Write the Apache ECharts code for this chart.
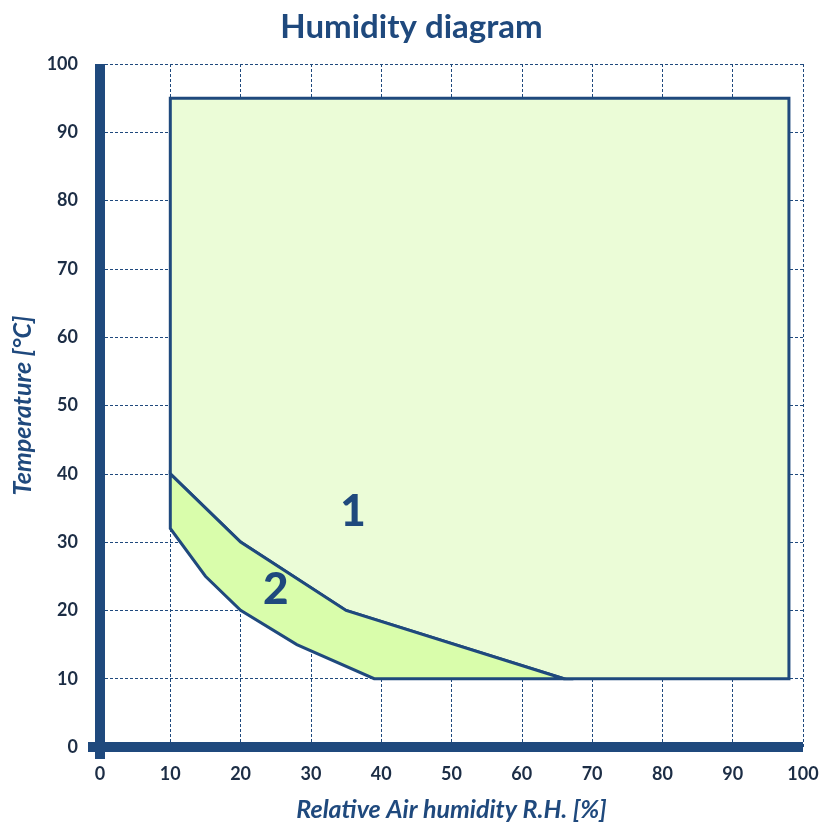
<!DOCTYPE html>
<html>
<head>
<meta charset="utf-8">
<script src="https://cdn.jsdelivr.net/npm/echarts@6/dist/echarts.min.js"></script>
<style>
html,body{margin:0;padding:0;background:#fff;}
#main{width:823px;height:822px;}
</style>
</head>
<body>
<div id="main"></div>
<script>
// zone 1 (light green), outline points: humidity / temperature
var zone1Hum  = [10, 10, 98, 98, 66, 35, 20];
var zone1Temp = [40, 95, 95, 10, 10, 20, 30];
// zone 2 (darker green band)
var zone2Hum  = [10, 20, 35, 66, 39, 28, 20, 15, 10];
var zone2Temp = [40, 30, 20, 10, 10, 15, 20, 25, 32];
// zone numbers
var zoneNames = ['1', '2'];
var zoneNameHum = [36, 25];
var zoneNameTemp = [34.5, 23];

var blue = '#1f497d';
var txt = '#1c2d45';

function zoneSeries(hum, temp, fill) {
	var pts = [];
	for (var i = 0; i < hum.length; i++) pts.push([hum[i], temp[i]]);
	return {
		type: 'custom',
		silent: true,
		data: pts,
		renderItem: function (params, api) {
			if (params.dataIndex !== 0) return;
			var p = [];
			for (var i = 0; i < pts.length; i++) p.push(api.coord(pts[i]));
			return {
				type: 'polygon',
				shape: {points: p},
				style: {fill: fill, stroke: blue, lineWidth: 3, lineJoin: 'miter'}
			};
		}
	};
}

var labelData = [];
for (var i = 0; i < zoneNames.length; i++) labelData.push([zoneNameHum[i], zoneNameTemp[i], zoneNames[i]]);

var chart = echarts.init(document.getElementById('main'));
chart.setOption({
	animation: false,
	title: {
		text: 'Humidity diagram',
		left: 'center',
		top: 6,
		textStyle: {fontFamily: 'Lato', fontWeight: 'bold', fontSize: 33, color: blue}
	},
	grid: {left: 100, right: 20, top: 64, bottom: 75, outerBoundsMode: 'none', containLabel: false},
	xAxis: {
		type: 'value', min: 0, max: 100, interval: 10,
		name: 'Relative Air humidity R.H. [%]',
		nameLocation: 'middle', nameGap: 50,
		nameTextStyle: {fontFamily: 'Lato', fontWeight: 'bold', fontStyle: 'italic', fontSize: 25, color: blue},
		axisLine: {show: true, symbol: ['rect', 'none'], symbolSize: [10, 24], lineStyle: {color: blue, width: 10, cap: 'butt'}},
		axisTick: {show: false},
		axisLabel: {margin: 18, fontFamily: 'Lato', fontWeight: 'bold', fontSize: 18, color: txt},
		splitLine: {show: true, lineStyle: {color: blue, width: 1, type: [3, 2]}}
	},
	yAxis: {
		type: 'value', min: 0, max: 100, interval: 10,
		name: 'Temperature [°C]',
		nameLocation: 'middle', nameGap: 62,
		nameTextStyle: {fontFamily: 'Lato', fontWeight: 'bold', fontStyle: 'italic', fontSize: 25, color: blue},
		axisLine: {show: true, symbol: ['rect', 'none'], symbolSize: [10, 24], lineStyle: {color: blue, width: 10, cap: 'butt'}},
		axisTick: {show: false},
		axisLabel: {margin: 22, fontFamily: 'Lato', fontWeight: 'bold', fontSize: 18, color: txt},
		splitLine: {show: true, lineStyle: {color: blue, width: 1, type: [3, 2]}}
	},
	series: [
		zoneSeries(zone1Hum, zone1Temp, '#ebfcd7'),
		zoneSeries(zone2Hum, zone2Temp, '#d9fdab'),
		{
			type: 'scatter',
			silent: true,
			symbolSize: 1,
			itemStyle: {opacity: 1, color: 'rgba(0,0,0,0)'},
			data: labelData,
			label: {
				show: true,
				position: 'inside',
				opacity: 1,
				formatter: function (p) { return p.data[2]; },
				fontFamily: 'Lato', fontWeight: 900, fontSize: 44, color: blue
			}
		}
	]
});
</script>
</body>
</html>
